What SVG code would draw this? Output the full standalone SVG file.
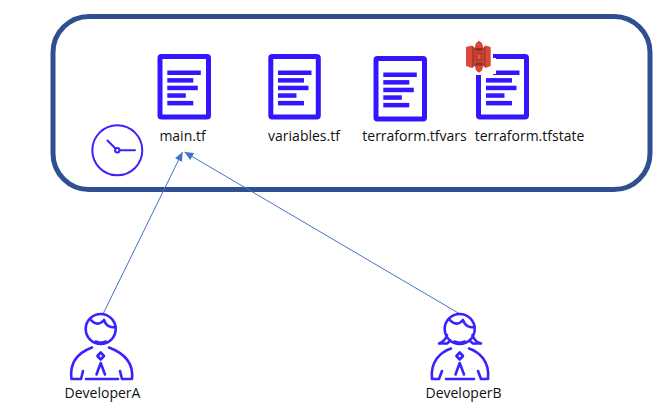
<svg xmlns="http://www.w3.org/2000/svg" width="664" height="412" viewBox="0 0 664 412">
<style>
text{font-family:"Open Sans","Noto Sans",sans-serif;font-size:14px;fill:#111;text-anchor:middle}
.ic{fill:none;stroke:#3a22ff;stroke-width:2.6;stroke-linecap:round;stroke-linejoin:round}
.doc{fill:none;stroke:#3316ff;stroke-width:5}
.ln{fill:#3316ff}
.cn{stroke:#4472c4;stroke-width:1;fill:none;marker-end:url(#ah)}
</style>
<defs>
<marker id="ah" markerUnits="userSpaceOnUse" markerWidth="10" markerHeight="9" refX="9" refY="4" orient="auto"><path d="M0 0L9 4L0 8z" fill="#4472c4"/></marker>
<g id="lines">
<rect class="ln" x="0" y="0" width="33.5" height="4.5"/>
<rect class="ln" x="0" y="7.6" width="26" height="4.5"/>
<rect class="ln" x="0" y="15.2" width="30.5" height="4.5"/>
<rect class="ln" x="0" y="22.8" width="18.5" height="4.5"/>
<rect class="ln" x="0" y="30.4" width="26" height="4.5"/>
</g>
</defs>
<rect id="frame" x="53" y="16.500" width="597" height="173" rx="36" fill="#fff" stroke="#2f5090" stroke-width="5"/>
<g id="main">
<rect class="doc" x="160" y="56.500" width="48.500" height="60.500" rx="1.500"/>
<use href="#lines" x="167.300" y="70.500"/>
<text x="182.500" y="141">main.tf</text>
</g>
<g id="variables">
<rect class="doc" x="270.800" y="56.500" width="47.500" height="60.500" rx="1.500"/>
<use href="#lines" x="278" y="70.500"/>
<text x="304" y="141">variables.tf</text>
</g>
<g id="tfvars">
<rect class="doc" x="376" y="58.500" width="48.500" height="60.500" rx="1.500"/>
<use href="#lines" x="383.300" y="72.500"/>
<text x="414.500" y="141">terraform.tfvars</text>
</g>
<g id="tfstate">
<rect class="doc" x="478.500" y="56.500" width="48" height="60.500" rx="1.500"/>
<use href="#lines" x="486" y="70.500"/>
<text x="529.500" y="141">terraform.tfstate</text>
</g>
<g id="s3">
<rect x="462" y="40" width="31" height="35" fill="#fff"/>
<rect x="490" y="58" width="6" height="16" fill="#fff"/>
<path d="M466 47L472 45.500L474.500 48L476 43L479 40.700L482 43L483.500 48L485.500 45.500L490.700 47V66L485.500 68L483.500 65.500L482 70.500L479 72.700L476 70.500L474.500 65.500L472 68L466 66z" fill="#d9483b"/>
<path d="M474.500 48H483.500L482 51H476zM474.500 65.500H483.500L482 62.500H476z" fill="#8f2f25"/>
<path d="M472 45.500L474.500 48V65.500L472 68zM485.500 45.500L483.500 48V65.500L485.500 68z" fill="#a83a2e"/>
<path d="M475.500 52H482.500V61.500H475.500z" fill="#b5392d"/>
<path d="M477.500 54.500H480.500V59H477.500z" fill="#e25444"/>
</g>
<g id="clock" class="ic" style="stroke-width:2">
<circle cx="117.300" cy="150.300" r="25"/>
<circle cx="117.300" cy="150.300" r="2.200"/>
<path d="M115.700 148.700L107.500 140.500M119.500 150.300H135"/>
</g>
<g id="connectors">
<path class="cn" d="M103 314L182.500 152"/>
<path class="cn" d="M460 314L184.500 152"/>
</g>
<g id="developerA">
<g class="ic">
<circle cx="100.700" cy="329" r="15"/>
<path d="M90 319C95 325 100 325 104 320C106 326 111 328 115.500 327"/>
<path d="M95.500 341.500Q100.700 344 106 341.500"/>
<path d="M71.500 379C69 361 80 352 92 347.500M132 379C134 361 121 352 109 347.500"/>
<path d="M73 379H81L83 371M130 379H122L120 371M86 379H118"/>
<path d="M100.700 352.500L104 356L100.700 359.500L97.400 356zM100.700 363L96.500 374.500M100.700 363L105 374.500"/>
</g>
<text x="102.500" y="398">DeveloperA</text>
</g>
<g id="developerB">
<g class="ic">
<circle cx="459.700" cy="329" r="15"/>
<path d="M449 319C454 325 459 325 463 320C465 326 470 328 474.500 327"/>
<path d="M454.500 341.500Q459.700 344 465 341.500"/>
<path d="M447 335C446 339 443 342 439 343.500H447L450 341M472.500 335C473.500 339 476 342 481 343.500H473L470 341"/>
<path d="M432 379C430 361 441 352 451 348.500M488 379C490 361 479 352 469 348.500"/>
<path d="M433 379H439L442 371M487 379H481L478 371M446 379H474"/>
<path d="M459.700 352.500L463 356L459.700 359.500L456.400 356zM459.700 363L455.500 374.500M459.700 363L464 374.500"/>
</g>
<text x="463.500" y="398">DeveloperB</text>
</g>
</svg>
